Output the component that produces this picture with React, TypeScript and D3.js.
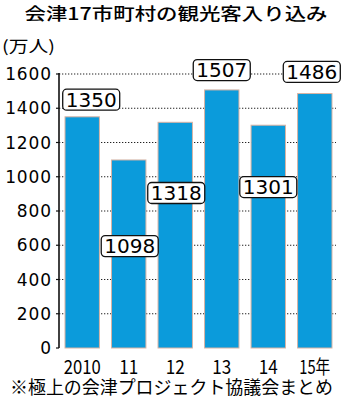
import React from "react";
import * as d3 from "d3";

const categories = ["2010", "11", "12", "13", "14", "15年"];
const visitors = [1350, 1098, 1318, 1507, 1301, 1486];
const yTicks = [0, 200, 400, 600, 800, 1000, 1200, 1400, 1600];
const title = "会津17市町村の観光客入り込み";
const unitLabel = "(万人)";
const sourceNote = "※極上の会津プロジェクト協議会まとめ";

// layout: label box anchor (value units) and horizontal nudge in px
const labelAnchor = [1450, 595, 905, 1623, 940, 1612];
const labelNudge = [9, 1, 1, 0, 0, -3];

const W = 345;
const H = 400;

export default function App() {
  const y = d3.scaleLinear().domain([0, 1600]).range([348, 74]);
  const x = d3
    .scaleBand<string>()
    .domain(categories)
    .range([65, 332])
    .paddingInner(0.26)
    .paddingOuter(0);
  const bw = x.bandwidth();
  const font = "'DejaVu Sans', 'Noto Sans CJK JP', sans-serif";
  const cjk = "'Noto Sans CJK JP', sans-serif";
  const xLabelLen = (c: string) => (c.length === 4 ? 37 : c.includes("年") ? 31 : 19);

  return (
    <svg
      width={W}
      height={H}
      style={{ position: "absolute", left: 0, top: 0, background: "#fff" }}
    >
      <text
        x={176}
        y={20}
        textAnchor="middle"
        fontFamily={cjk}
        fontSize={17}
        fontWeight={500}
        textLength={303}
        lengthAdjust="spacingAndGlyphs"
      >
        {title}
      </text>
      <text x={2} y={52} fontFamily={cjk} fontSize={16} textLength={53} lengthAdjust="spacingAndGlyphs">
        {unitLabel}
      </text>

      {/* gridlines */}
      {yTicks
        .filter((t) => t > 0)
        .map((t) => (
          <line
            key={"g" + t}
            x1={59}
            x2={336}
            y1={y(t)}
            y2={y(t)}
            stroke="#222"
            strokeWidth={1.2}
            strokeDasharray="1.3,1.7"
          />
        ))}

      {/* bars */}
      {categories.map((c, i) => (
        <rect
          key={"b" + c}
          x={x(c)}
          y={y(visitors[i])}
          width={bw}
          height={y(0) - y(visitors[i])}
          fill="#0b9bdb"
          stroke="#d9b3a3"
          strokeWidth={1}
        />
      ))}

      {/* axis */}
      <line x1={59} x2={59} y1={y(1600) - 1} y2={y(0)} stroke="#111" strokeWidth={1.6} />
      {yTicks.map((t) => (
        <g key={"t" + t}>
          <line x1={56} x2={59} y1={y(t)} y2={y(t)} stroke="#111" strokeWidth={1.2} />
          <text
            x={52}
            y={y(t)}
            dy="0.36em"
            textAnchor="end"
            fontFamily={font}
            fontSize={17}
            letterSpacing={0.9}
          >
            {t}
          </text>
        </g>
      ))}

      {/* x labels */}
      {categories.map((c) => (
        <text
          key={"x" + c}
          x={(x(c) as number) + bw / 2}
          y={374}
          textAnchor="middle"
          fontFamily={cjk}
          fontSize={19}
          textLength={xLabelLen(c)}
          lengthAdjust="spacingAndGlyphs"
        >
          {c}
        </text>
      ))}

      {/* value labels */}
      {categories.map((c, i) => {
        const cx = (x(c) as number) + bw / 2 + labelNudge[i];
        const cy = y(labelAnchor[i]);
        return (
          <g key={"l" + c}>
            <rect
              x={cx - 28.5}
              y={cy - 10.5}
              width={57}
              height={21}
              rx={4}
              fill="#fff"
              stroke="#111"
              strokeWidth={1.3}
            />
            <text
              x={cx}
              y={cy}
              dy="0.36em"
              textAnchor="middle"
              fontFamily={font}
              fontSize={19}
              textLength={51}
              lengthAdjust="spacingAndGlyphs"
            >
              {visitors[i]}
            </text>
          </g>
        );
      })}

      <text
        x={10}
        y={394}
        fontFamily={cjk}
        fontSize={18}
        textLength={323}
        lengthAdjust="spacingAndGlyphs"
      >
        {sourceNote}
      </text>
    </svg>
  );
}
